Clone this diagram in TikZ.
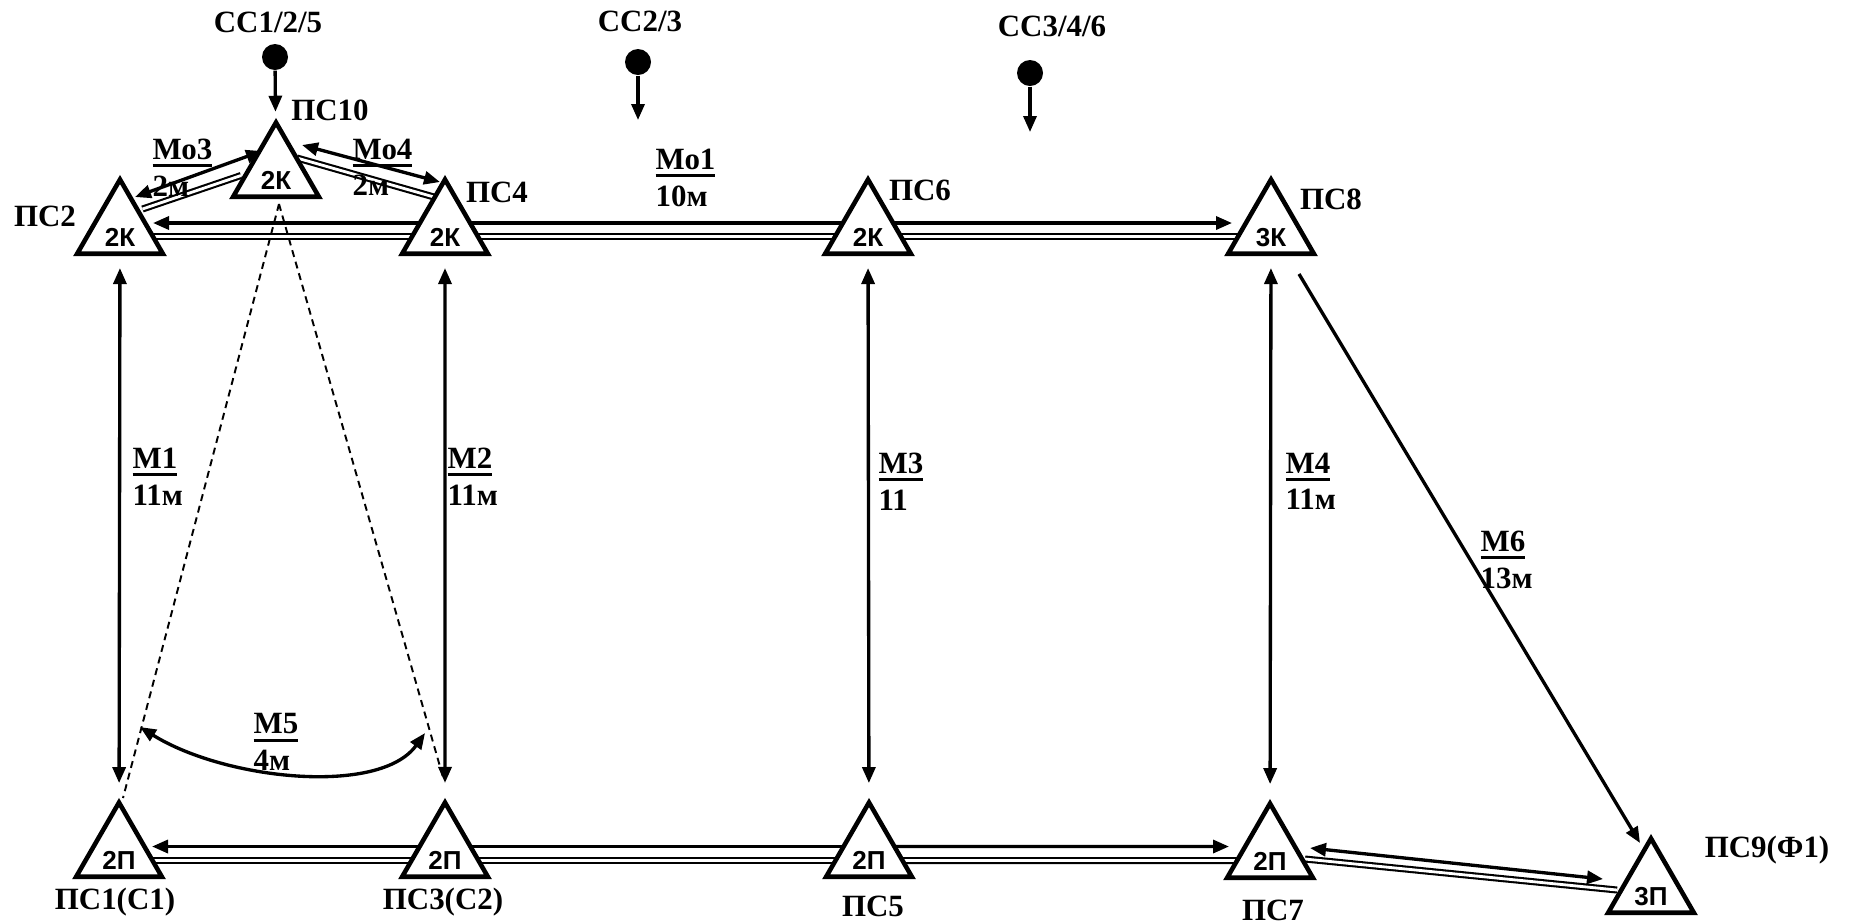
\documentclass[tikz,border=0pt]{standalone}
\usepackage{fontspec}
\setmainfont{Liberation Serif}
\newfontfamily\trifont{Liberation Sans}
\usetikzlibrary{shapes.geometric,arrows.meta,backgrounds}
\newcommand\ulbox[1]{\vtop{\hbox{#1}\kern0.45mm\hrule height 0.9pt}}

\begin{document}
\begin{tikzpicture}[x=0.1mm,y=-0.1mm,
  >={Triangle[length=1.6mm,width=1.3mm]},
  ps/.style={regular polygon,regular polygon sides=3,draw,fill=white,line width=1.3pt,
    minimum size=9.3mm,inner sep=0pt,text height=3.5mm,text depth=0mm,
    font=\trifont\bfseries\fontsize{7.4}{8}\selectfont},
  psname/.style={font=\bfseries\fontsize{8.8}{10.5}\selectfont,inner sep=0pt},
  mlabel/.style={psname,align=left,anchor=north west},
  flow/.style={->,line width=0.95pt},
  link/.style={<->,line width=0.95pt,shorten <=1.2mm,shorten >=1.5mm},
  pipe/.style={double,double distance=0.8pt,line width=0.6pt},
  guide/.style={dash pattern=on 0.7mm off 0.5mm,line width=0.55pt},
  feed/.style={circle,fill,minimum size=2.6mm,inner sep=0pt}]
  \useasboundingbox (0,0) rectangle (1852,922);

  % substations
  \node[ps] (ps2) at (120,229) {2К};
  \node[ps] (ps10) at (276,172) {2К};
  \node[ps] (ps4) at (445,229) {2К};
  \node[ps] (ps6) at (868,229) {2К};
  \node[ps] (ps8) at (1271,229) {3К};
  \node[ps] (ps1) at (119,852) {2П};
  \node[ps] (ps3) at (445,852) {2П};
  \node[ps] (ps5) at (869,852) {2П};
  \node[ps] (ps7) at (1270,853) {2П};
  \node[ps] (ps9) at (1651,888) {3П};

  \node[psname] (n2) at (45,216) {ПС2};
  \node[psname] (n10) at (330,110) {ПС10};
  \node[psname] (n4) at (497,192) {ПС4};
  \node[psname] (n6) at (920,190) {ПС6};
  \node[psname] (n8) at (1331,199) {ПС8};
  \node[psname] (n1) at (115,902) {ПС1(С1)};
  \node[psname] (n3) at (443,902) {ПС3(С2)};
  \node[psname] (n5) at (873,906) {ПС5};
  \node[psname] (n7) at (1273,910) {ПС7};
  \node[psname] (n9) at (1767,850) {ПС9(Ф1)};

  % sources
  \node[feed] (cc1) at (275,57) {};
  \node[feed] (cc2) at (638,62) {};
  \node[feed] (cc3) at (1030,73) {};
  \node[psname] (lcc1) at (268,22) {СС1/2/5};
  \node[psname] (lcc2) at (640,21) {СС2/3};
  \node[psname] (lcc3) at (1052,26) {СС3/4/6};
  \coordinate (in2) at (638,120);
  \coordinate (in3) at (1030,132);
  \draw[flow,shorten >=0.7mm] (cc1) -- (ps10);
  \draw[flow] (cc2) -- (in2);
  \draw[flow] (cc3) -- (in3);

  % line labels
  \node[mlabel] (lmo3) at (152,138) {\ulbox{Мо3}\\2м};
  \node[mlabel] (lmo4) at (352,138) {\ulbox{Мо4}\\2м};
  \node[mlabel] (lmo1) at (655,148) {\ulbox{Мо1}\\10м};
  \node[mlabel] (lm1) at (132,447) {\ulbox{М1}\\11м};
  \node[mlabel] (lm2) at (447,447) {\ulbox{М2}\\11м};
  \node[mlabel] (lm3) at (878,452) {\ulbox{М3}\\11};
  \node[mlabel] (lm4) at (1285,452) {\ulbox{М4}\\11м};
  \node[mlabel] (lm6) at (1480,530) {\ulbox{М6}\\13м};
  \node[mlabel] (lm5) at (253,713) {\ulbox{М5}\\4м};

  \begin{pgfonlayer}{background}
    % top row
    \draw[flow,shorten >=3.3mm] ([yshift=0.6mm]ps6.center) -- ([yshift=0.6mm]ps2.center);
    \draw[pipe] ([yshift=-0.75mm]ps6.center) -- ([yshift=-0.75mm]ps2.center);
    \draw[flow,shorten >=3.9mm] ([yshift=0.6mm]ps6.center) -- ([yshift=0.6mm]ps8.center);
    \draw[pipe] ([yshift=-0.75mm]ps6.center) -- ([yshift=-0.75mm]ps8.center);
    % bottom row
    \draw[flow,shorten >=3.3mm] ([yshift=0.55mm]ps5.center) -- ([yshift=0.55mm]ps1.center);
    \draw[pipe] ([yshift=-0.85mm]ps5.center) -- ([yshift=-0.85mm]ps1.center);
    \draw[flow,shorten >=4.1mm] ([yshift=0.55mm]ps5.center) -- ([yshift=0.65mm]ps7.center);
    \draw[pipe] ([yshift=-0.85mm]ps5.center) -- ([yshift=-0.75mm]ps7.center);
    % Mo3, Mo4
    \draw[flow,<->] ([shift={(-1.4mm,2.1mm)}]ps10.center) -- ([shift={(1.5mm,3.2mm)}]ps2.center);
    \draw[pipe] ([shift={(-3.5mm,-0.35mm)}]ps10.center) -- ([shift={(2.25mm,2mm)}]ps2.center);
    \draw[flow,<->] ([shift={(2.6mm,2.7mm)}]ps10.center) -- ([shift={(-0.5mm,4.7mm)}]ps4.center);
    \draw[pipe] ([shift={(2.1mm,1.4mm)}]ps10.center) -- ([shift={(-1.1mm,3.2mm)}]ps4.center);
    % PS7 - PS9
    \draw[flow,<->] ([shift={(4mm,0.5mm)}]ps7.center) -- ([shift={(-4.8mm,0.9mm)}]ps9.center);
    \draw[pipe] ([shift={(3.5mm,-0.6mm)}]ps7.center) -- ([shift={(-3.4mm,-0.2mm)}]ps9.center);
    % verticals
    \draw[link] (ps2) -- (ps1);
    \draw[link] (ps4) -- (ps3);
    \draw[link] (ps6) -- (ps5);
    \draw[link] (ps8) -- (ps7);
    \draw[flow] ([shift={(2.8mm,-4.5mm)}]ps8.center) -- ([shift={(-1.1mm,4.5mm)}]ps9.center);
    % M5 and guides
    \draw[guide] ([shift={(0.3mm,-3.2mm)}]ps10.center) -- ([shift={(0.4mm,5.4mm)}]ps1.center);
    \draw[guide] ([shift={(0.3mm,-3.2mm)}]ps10.center) -- ([shift={(-0.2mm,7.5mm)}]ps3.center);
    \coordinate (m5l) at (140,727);
    \coordinate (m5r) at (425,733);
    \draw[flow,<->] (m5l) .. controls (225,780) and (380,796) .. (m5r);
  \end{pgfonlayer}
\end{tikzpicture}
\end{document}
